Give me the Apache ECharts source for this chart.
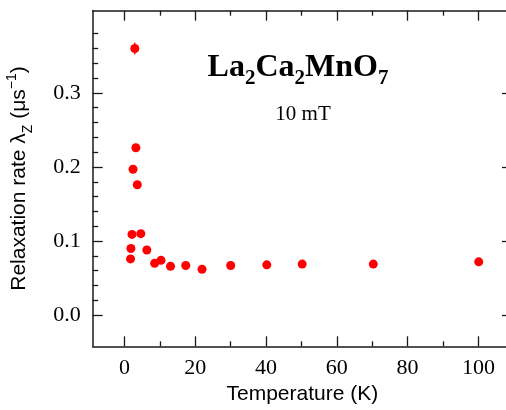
<!DOCTYPE html>
<html>
<head>
<meta charset="utf-8">
<script src="https://cdn.jsdelivr.net/npm/echarts@6/dist/echarts.min.js"></script>
<style>
  html, body { margin: 0; padding: 0; background: #fff; }
  #main { width: 506px; height: 410px; }
</style>
</head>
<body>
<div id="main"></div>
<script>
// La2Ca2MnO7, 10 mT: relaxation rate vs temperature
const temps = [1.7, 1.8, 2.1, 2.4, 2.9, 3.2, 3.6, 4.6, 6.3, 8.5, 10.3, 13.0, 17.3, 21.9, 30.0, 40.2, 50.2, 70.3, 100.1];
const rates = [0.076, 0.090, 0.109, 0.197, 0.360, 0.226, 0.176, 0.110, 0.088, 0.070, 0.074, 0.066, 0.067, 0.062, 0.067, 0.068, 0.069, 0.069, 0.072];
const errs  = [0.003, 0.003, 0.003, 0.004, 0.008, 0.004, 0.004, 0.003, 0.003, 0.002, 0.002, 0.002, 0.002, 0.002, 0.002, 0.002, 0.002, 0.002, 0.002];

const xMajor = [0, 20, 40, 60, 80, 100];
const xMinor = [10, 30, 50, 70, 90];
const yMajor = [0, 0.1, 0.2, 0.3];
const yMinor = [0.02, 0.04, 0.06, 0.08, 0.12, 0.14, 0.16, 0.18, 0.22, 0.24, 0.26, 0.28, 0.32, 0.34, 0.36, 0.38];

const SERIF = 'Liberation Serif';
const SANS = 'Liberation Sans';
const INK = '#1a1a1a';

const chart = echarts.init(document.getElementById('main'), null, { renderer: 'canvas' });

const X_MIN = -9, X_MAX = 109.5;
const Y_MIN = -0.042, Y_MAX = 0.411;

// one axis per tick set, so majors and minors can have different lengths
function xAx(pos, ticks, len, withLine, withLabels) {
  return {
    type: 'value', position: pos, min: X_MIN, max: X_MAX,
    axisLine: { show: withLine, onZero: false, lineStyle: { color: INK, width: 1.5 } },
    axisTick: { show: true, inside: true, length: len, customValues: ticks, lineStyle: { color: INK, width: 1.3 } },
    axisLabel: withLabels ? {
      show: true, customValues: ticks, margin: 11,
      fontFamily: SERIF, fontSize: 22, color: '#000'
    } : { show: false },
    splitLine: { show: false },
    name: withLabels ? 'Temperature (K)' : '',
    nameLocation: 'middle', nameGap: 36,
    nameTextStyle: { fontFamily: SANS, fontSize: 21, color: '#000' }
  };
}

function yAx(pos, ticks, len, withLine, withLabels) {
  return {
    type: 'value', position: pos, min: Y_MIN, max: Y_MAX,
    axisLine: { show: withLine, onZero: false, lineStyle: { color: INK, width: 1.5 } },
    axisTick: { show: true, inside: true, length: len, customValues: ticks, lineStyle: { color: INK, width: 1.3 } },
    axisLabel: withLabels ? {
      show: true, customValues: ticks, margin: 12,
      fontFamily: SERIF, fontSize: 22, color: '#000',
      formatter: v => v.toFixed(1)
    } : { show: false },
    splitLine: { show: false },
    name: withLabels ? 'Relaxation rate λ{sub|Z} (μs{sup|−1})' : '',
    nameLocation: 'middle', nameGap: 58, nameRotate: 90,
    nameTextStyle: {
      fontFamily: SANS, fontSize: 21, color: '#000', lineHeight: 26,
      rich: {
        sub: { fontFamily: SANS, fontSize: 14, verticalAlign: 'bottom', lineHeight: 30 },
        sup: { fontFamily: SANS, fontSize: 14, verticalAlign: 'top', lineHeight: 30 }
      }
    }
  };
}

const points = temps.map((t, i) => [t, rates[i]]);
const bars = temps.map((t, i) => [t, rates[i] - errs[i], rates[i] + errs[i]]);

const option = {
  animation: false,
  backgroundColor: '#fff',
  grid: { left: 92.7, right: -6, top: 10.7, bottom: 63.7, containLabel: false, outerBoundsMode: 'none' },
  xAxis: [
    xAx('bottom', xMajor, 10, true, true),
    xAx('bottom', xMinor, 5, false, false),
    xAx('top', xMajor, 10, true, false),
    xAx('top', xMinor, 5, false, false)
  ],
  yAxis: [
    yAx('left', yMajor, 10, true, true),
    yAx('left', yMinor, 5.5, false, false),
    yAx('right', yMajor, 10, true, false),
    yAx('right', yMinor, 5.5, false, false)
  ],
  graphic: [
    {
      type: 'text', x: 298, y: 67.5, silent: true,
      style: {
        text: '{b|La}{s|2}{b|Ca}{s|2}{b|MnO}{s|7}',
        align: 'center', verticalAlign: 'middle',
        rich: {
          b: { fontFamily: SERIF, fontWeight: 'bold', fontSize: 32, lineHeight: 36, verticalAlign: 'middle', fill: '#000' },
          s: { fontFamily: SERIF, fontWeight: 'bold', fontSize: 21, lineHeight: 43, verticalAlign: 'bottom', fill: '#000' }
        }
      }
    },
    {
      type: 'text', x: 303, y: 114, silent: true,
      style: {
        text: '10 mT', align: 'center', verticalAlign: 'middle',
        fontFamily: SERIF, fontSize: 21, fill: '#000'
      }
    }
  ],
  series: [
    {
      // error bars
      type: 'custom',
      xAxisIndex: 0, yAxisIndex: 0,
      data: bars,
      z: 2,
      renderItem: function (params, api) {
        const lo = api.coord([api.value(0), api.value(1)]);
        const hi = api.coord([api.value(0), api.value(2)]);
        return {
          type: 'line',
          shape: { x1: lo[0], y1: lo[1], x2: hi[0], y2: hi[1] },
          style: { stroke: '#ff0000', lineWidth: 1.3 }
        };
      }
    },
    {
      type: 'scatter',
      xAxisIndex: 0, yAxisIndex: 0,
      data: points,
      symbol: 'circle',
      symbolSize: 9,
      itemStyle: { color: '#ff0000', opacity: 1 },
      z: 3
    }
  ]
};

chart.setOption(option);
</script>
</body>
</html>
